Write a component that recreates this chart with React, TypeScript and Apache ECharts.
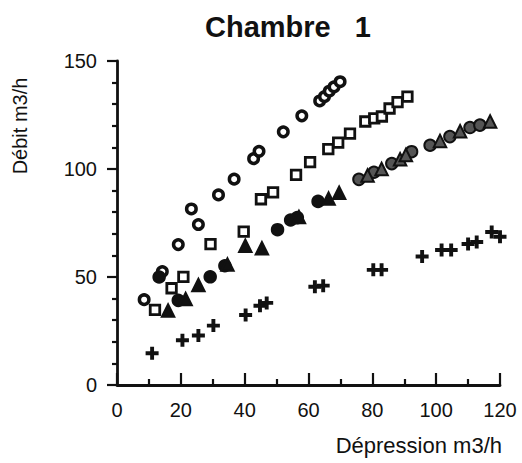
import React, { useEffect, useRef } from "react";
import * as echarts from "echarts";

// Open circles
const seriesCircle: number[][] = [
  [8.5, 39.5], [14.2, 52.5], [19.2, 65], [23.3, 81.5], [25.5, 74.3], [31.8, 88],
  [36.7, 95.3], [42.8, 104.8], [44.5, 108.2], [52.1, 117.2], [57.9, 124.6],
  [63.5, 131.5], [65, 133.5], [66.5, 136], [68, 138], [69.9, 140.4],
];
// Open squares
const seriesSquare: number[][] = [
  [11.9, 34.8], [17.1, 44.8], [20.8, 50.1], [29.3, 65.2], [39.7, 71], [45.1, 86],
  [48.9, 89.2], [56.1, 97.3], [60.5, 103.2], [66.2, 109.2], [69.3, 112.2], [73, 116.4],
  [77.8, 122], [80.6, 123.4], [83, 124.3], [85.4, 128], [87.9, 131], [91, 133.5],
];
// Filled dots
const seriesDot: number[][] = [
  [13.2, 50], [19.2, 39.2], [29.2, 50.1], [33.8, 55.2], [50.3, 71.9], [54.4, 76.4],
  [56.5, 77.5], [63, 85], [75.8, 95.2], [80.5, 98.5], [86.1, 102.5], [92.3, 108],
  [98.1, 111], [104.3, 115], [110.6, 119.2], [113.7, 120.3],
];
// Filled triangles
const seriesTriangle: number[][] = [
  [16, 34.5], [21.5, 39.8], [25.5, 46.3], [34.6, 55.8], [40.2, 64.5], [45.4, 63.3],
  [57, 77.8], [66.3, 86.3], [69.6, 89], [78.5, 97], [82.9, 100], [88.7, 104.5],
  [90.5, 106.5], [101.2, 113], [107.5, 117.5], [116.9, 122],
];
// Crosses
const seriesCross: number[][] = [
  [11, 14.7], [20.5, 20.7], [25.5, 22.9], [30.2, 27.5], [40.3, 32.4], [44.8, 36.7],
  [46.9, 38], [62, 45.5], [64.6, 46], [80.3, 53.3], [82.9, 53.3], [95.6, 59.5],
  [101.7, 62.5], [104.7, 62.5], [110, 65.3], [112.7, 66.2], [117.4, 70.8], [120, 68.6],
];

const titleText = "Chambre   1";
const xName = "Dépression m3/h";
const yName = "Débit m3/h";

const PLUS = "path://M3.5,0H6.5V3.5H10V6.5H6.5V10H3.5V6.5H0V3.5H3.5Z";

export default function App() {
  const ref = useRef<HTMLDivElement>(null);
  useEffect(() => {
    const chart = echarts.init(ref.current!, null, { renderer: "svg" });
    const font = "'Liberation Sans', Arial, Helvetica, sans-serif";
    const ink = "#111";
    const filledColor = (p: any) => (p.value[0] > 72 ? "#555" : ink);
    chart.setOption({
      animation: false,
      backgroundColor: "#fff",
      title: {
        text: titleText,
        left: 200,
        top: 7,
        textStyle: { fontFamily: font, fontWeight: "bold", fontSize: 29, color: ink },
      },
      grid: { left: 117, right: 22, top: 61, bottom: 78 },
      xAxis: {
        type: "value",
        min: 0,
        max: 120,
        interval: 20,
        axisLine: { show: true, lineStyle: { color: ink, width: 2.8 } },
        axisTick: { show: true, inside: true, length: 12, lineStyle: { color: ink, width: 2.2 } },
        minorTick: { show: true, splitNumber: 2, length: 6, lineStyle: { color: ink, width: 2.2 } },
        splitLine: { show: false },
        axisLabel: { margin: 15, fontSize: 20, fontFamily: font, color: ink },
      },
      yAxis: {
        type: "value",
        min: 0,
        max: 150,
        interval: 50,
        axisLine: { show: true, lineStyle: { color: ink, width: 2.8 } },
        axisTick: { show: true, inside: false, length: 10, lineStyle: { color: ink, width: 2.2 } },
        minorTick: { show: true, splitNumber: 5, length: 5, lineStyle: { color: ink, width: 2.2 } },
        splitLine: { show: false },
        axisLabel: { margin: 20, fontSize: 20, fontFamily: font, color: ink },
      },
      graphic: [
        {
          type: "text",
          x: 20,
          y: 126,
          rotation: Math.PI / 2,
          style: {
            text: yName,
            font: `20px ${font}`,
            fill: ink,
            textAlign: "center",
            textVerticalAlign: "middle",
          },
        },
        {
          type: "text",
          x: 502,
          y: 445,
          style: {
            text: xName,
            font: `22px ${font}`,
            fill: ink,
            textAlign: "right",
            textVerticalAlign: "middle",
          },
        },
      ],
      series: [
        {
          type: "scatter",
          name: "circle",
          data: seriesCircle,
          symbol: "circle",
          symbolSize: 9.5,
          clip: false,
          itemStyle: { color: "#fff", borderColor: ink, borderWidth: 3.5, opacity: 1 },
        },
        {
          type: "scatter",
          name: "square",
          data: seriesSquare,
          symbol: "rect",
          symbolSize: 9.5,
          clip: false,
          itemStyle: { color: "#fff", borderColor: ink, borderWidth: 2.8, opacity: 1 },
        },
        {
          type: "scatter",
          name: "dot",
          data: seriesDot,
          symbol: "circle",
          symbolSize: 11.5,
          clip: false,
          itemStyle: { color: filledColor, borderColor: ink, borderWidth: 2, opacity: 1 },
        },
        {
          type: "scatter",
          name: "triangle",
          data: seriesTriangle,
          symbol: "triangle",
          symbolSize: 12.5,
          clip: false,
          itemStyle: { color: filledColor, borderColor: ink, borderWidth: 2, opacity: 1 },
        },
        {
          type: "scatter",
          name: "cross",
          data: seriesCross,
          symbol: PLUS,
          symbolSize: 13,
          clip: false,
          itemStyle: { color: ink, opacity: 1 },
        },
      ],
    });
    return () => chart.dispose();
  }, []);
  return (
    <div
      ref={ref}
      style={{ position: "fixed", left: 0, top: 0, width: 522, height: 463, background: "#fff" }}
    />
  );
}
